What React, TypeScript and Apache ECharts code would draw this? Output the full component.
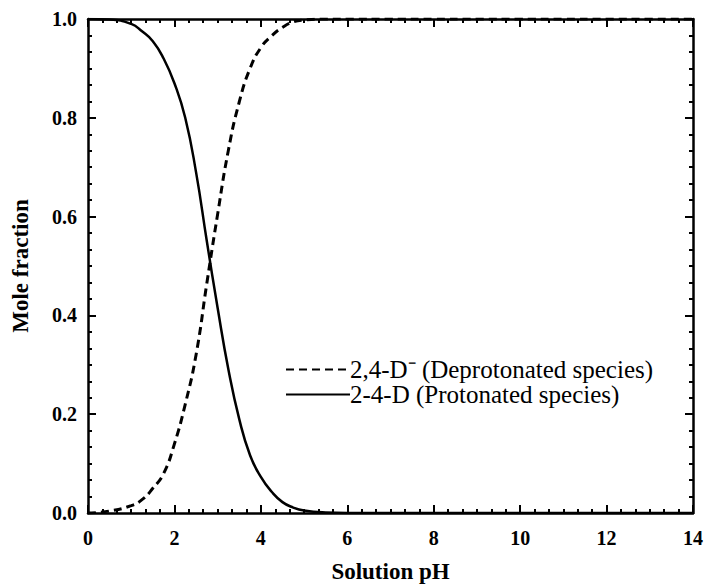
import React, { useEffect, useRef } from "react";
import * as echarts from "echarts";

const pH = [0, 0.5, 1, 1.25, 1.5, 1.75, 2, 2.25, 2.5, 2.75, 3, 3.25, 3.5, 3.75, 4, 4.25, 4.5, 4.75, 5, 5.5, 6, 7, 8, 9, 10, 11, 12, 13, 14];
const deprotonated = [0, 0.004, 0.015, 0.027, 0.05, 0.08, 0.14, 0.22, 0.32, 0.465, 0.605, 0.735, 0.832, 0.9, 0.942, 0.966, 0.983, 0.994, 0.998, 1, 1, 1, 1, 1, 1, 1, 1, 1, 1];
const protonated = [1, 0.999, 0.99, 0.975, 0.955, 0.92, 0.87, 0.8, 0.69, 0.55, 0.415, 0.29, 0.19, 0.117, 0.073, 0.043, 0.022, 0.011, 0.005, 0.001, 0, 0, 0, 0, 0, 0, 0, 0, 0];
const seriesNames = ["2,4-D\u207B (Deprotonated species)", "2-4-D (Protonated species)"];
const xTitle = "Solution pH";
const yTitle = "Mole fraction";

const SERIF = "'Liberation Serif', 'Times New Roman', serif";

export default function App() {
  const ref = useRef<HTMLDivElement>(null);
  useEffect(() => {
    if (!ref.current) return;
    const chart = echarts.init(ref.current, undefined, { renderer: "svg" });
    const axisLine = { show: true, onZero: false, lineStyle: { color: "#000", width: 2.5 } };
    const axisTick = { show: true, inside: true, length: 8, lineStyle: { color: "#000", width: 2 } };
    const minorTick = { show: true, splitNumber: 6, length: 4, lineStyle: { color: "#000", width: 2 } };
    const labelStyle = { color: "#000", fontFamily: SERIF, fontWeight: "bold" as const, fontSize: 20 };
    const nameStyle = { color: "#000", fontFamily: SERIF, fontWeight: "bold" as const, fontSize: 23 };
    const xBase = { type: "value" as const, min: 0, max: 14, interval: 2, axisLine, axisTick, minorTick, splitLine: { show: false } };
    const yBase = { type: "value" as const, min: 0, max: 1, interval: 0.2, axisLine, axisTick, minorTick, splitLine: { show: false } };
    const toPairs = (ys: number[]) => pH.map((x, i) => [x, ys[i]]);
    chart.setOption({
      animation: false,
      backgroundColor: "#fff",
      grid: { left: 88, top: 19, right: 11, bottom: 70, containLabel: false },
      xAxis: [
        { ...xBase, position: "bottom", name: xTitle, nameLocation: "middle", nameGap: 47, nameTextStyle: nameStyle,
          axisLabel: { ...labelStyle, margin: 15 } },
        { ...xBase, position: "top", axisLabel: { show: false } },
      ],
      yAxis: [
        { ...yBase, position: "left", name: yTitle, nameLocation: "middle", nameGap: 56, nameTextStyle: nameStyle,
          axisLabel: { ...labelStyle, margin: 11, formatter: (v: number) => v.toFixed(1) } },
        { ...yBase, position: "right", axisLabel: { show: false } },
      ],
      legend: {
        orient: "vertical",
        left: 280,
        top: 352,
        itemWidth: 64,
        itemHeight: 14,
        itemGap: 0,
        itemStyle: { color: "transparent", borderColor: "transparent", borderWidth: 0 },
        textStyle: { color: "#000", fontFamily: SERIF, fontSize: 25, lineHeight: 24, padding: [0, 0, 0, -5] },
        data: seriesNames,
      },
      series: [
        {
          name: seriesNames[0], type: "line", data: toPairs(deprotonated), showSymbol: false, symbol: "none",
          smooth: 0.5,
          lineStyle: { color: "#000", width: 3, type: [8, 5] }, itemStyle: { color: "#000" },
        },
        {
          name: seriesNames[1], type: "line", data: toPairs(protonated), showSymbol: false, symbol: "none",
          smooth: 0.5,
          lineStyle: { color: "#000", width: 2.5, type: "solid" }, itemStyle: { color: "#000" },
        },
      ],
    });
    return () => chart.dispose();
  }, []);
  return <div ref={ref} style={{ width: 706, height: 588, position: "absolute", left: 0, top: 0 }} />;
}
